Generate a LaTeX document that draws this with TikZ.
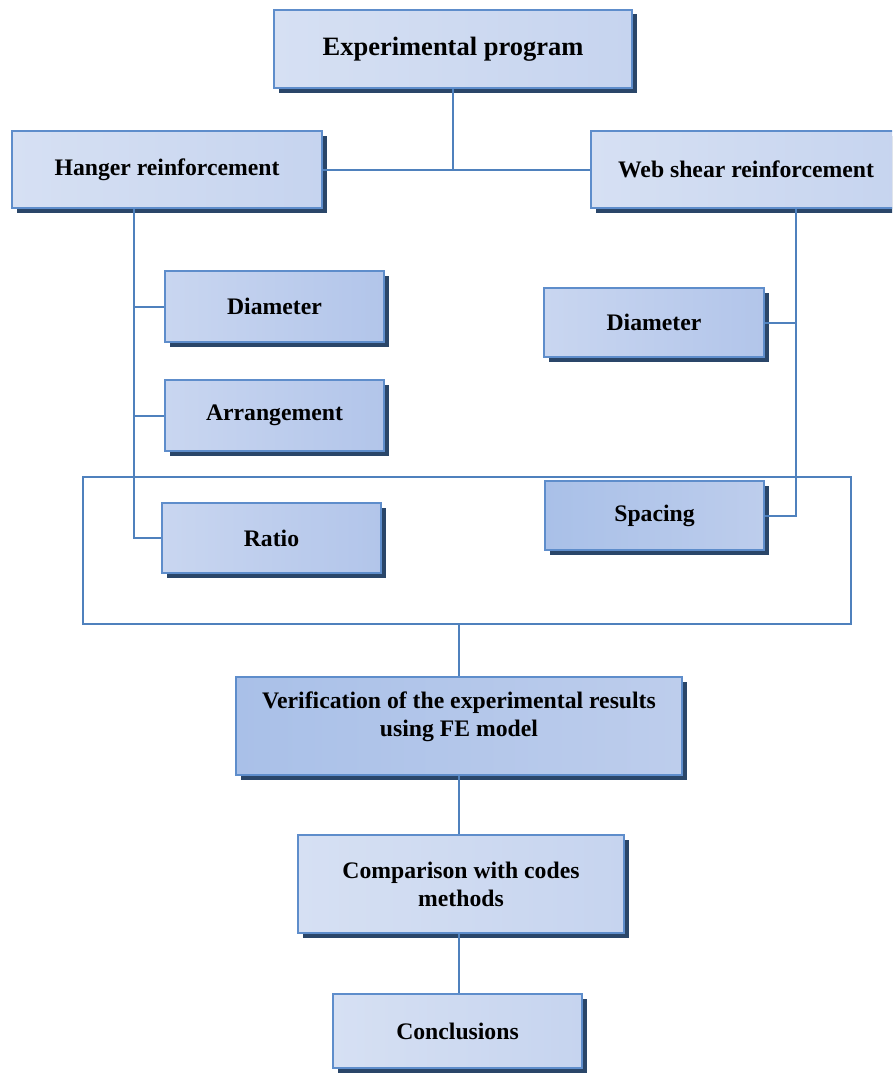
\documentclass[tikz,border=0pt]{standalone}
\usepackage{fontspec}
\setmainfont{Liberation Serif}
\usetikzlibrary{shadows}

\definecolor{linec}{HTML}{4F81BD}
\definecolor{edgec}{HTML}{5E8DCB}
\definecolor{shadowc}{HTML}{2A4669}
\definecolor{paleA}{HTML}{D6E0F3}
\definecolor{paleB}{HTML}{C6D4EF}
\definecolor{midA}{HTML}{C9D6F0}
\definecolor{midB}{HTML}{B2C5EA}
\definecolor{deepA}{HTML}{A9C0E8}
\definecolor{deepB}{HTML}{BDCDEC}

\begin{document}
\begin{tikzpicture}[x=1pt,y=-1pt]
\tikzstyle{every node}=[inner sep=0pt, align=center, font=\fontsize{23.7}{28}\selectfont\bfseries]
\tikzstyle{box}=[rectangle, draw=edgec, line width=2pt, general shadow={fill=shadowc, shadow xshift=4.5pt, shadow yshift=-4.5pt}]
\tikzstyle{pale}=[box, left color=paleA, right color=paleB]
\tikzstyle{mid}=[box, left color=midA, right color=midB]
\tikzstyle{deep}=[box, left color=deepA, right color=deepB]
\tikzstyle{link}=[draw=linec, line width=2pt]
\clip (0,0) rectangle (892,1073);
\useasboundingbox (0,0) rectangle (892,1073);
% top level
\node (prog) at (453,49) [pale, minimum width=358pt, minimum height=78pt, font=\fontsize{26.5}{30}\selectfont\bfseries] {Experimental program};
\node (hang) at (167,169.5) [pale, minimum width=310pt, minimum height=77pt] {Hanger reinforcement};
\node (web) at (746,169.5) [pale, minimum width=310pt, minimum height=77pt] {Web shear reinforcement};
% hanger branch
\node (hdia) at (274.5,306.5) [mid, minimum width=219pt, minimum height=71pt] {Diameter};
\node (harr) at (274.5,415.5) [mid, minimum width=219pt, minimum height=71pt] {Arrangement};
\node (hrat) at (271.5,538) [mid, minimum width=219pt, minimum height=70pt] {Ratio};
% web branch
\node (wdia) at (654,322.5) [mid, minimum width=220pt, minimum height=69pt] {Diameter};
\node (wspa) at (654.5,515.5) [deep, minimum width=219pt, minimum height=69pt] {Spacing};
% lower chain
\node (ver) at (459,726) [deep, minimum width=446pt, minimum height=98pt, text depth=24pt] {Verification of the experimental results\\using FE model};
\node (comp) at (461,884) [pale, minimum width=326pt, minimum height=98pt] {Comparison with codes\\methods};
\node (concl) at (457.5,1031) [pale, minimum width=249pt, minimum height=74pt] {Conclusions};
\coordinate (lx) at (134,0);
\coordinate (rx) at (796,0);
\coordinate (fl) at (83,477);
\coordinate (fr) at (851,624);
\draw[link] (prog.south) -- (prog.south |- hang.east);
\draw[link] (hang.east) -- (web.west);
\draw[link] (lx |- hang.south) -- (lx |- hrat.west) -- (hrat.west);
\draw[link] (lx |- hdia.west) -- (hdia.west);
\draw[link] (lx |- harr.west) -- (harr.west);
\draw[link] (rx |- web.south) -- (rx |- wspa.east) -- (wspa.east);
\draw[link] (rx |- wdia.east) -- (wdia.east);
\draw[link] (fl) rectangle (fr);
\draw[link] (ver.north |- fr) -- (ver.north);
\draw[link] (ver.south) -- (ver.south |- comp.north);
\draw[link] (ver.south |- comp.south) -- (ver.south |- concl.north);
\end{tikzpicture}
\end{document}
